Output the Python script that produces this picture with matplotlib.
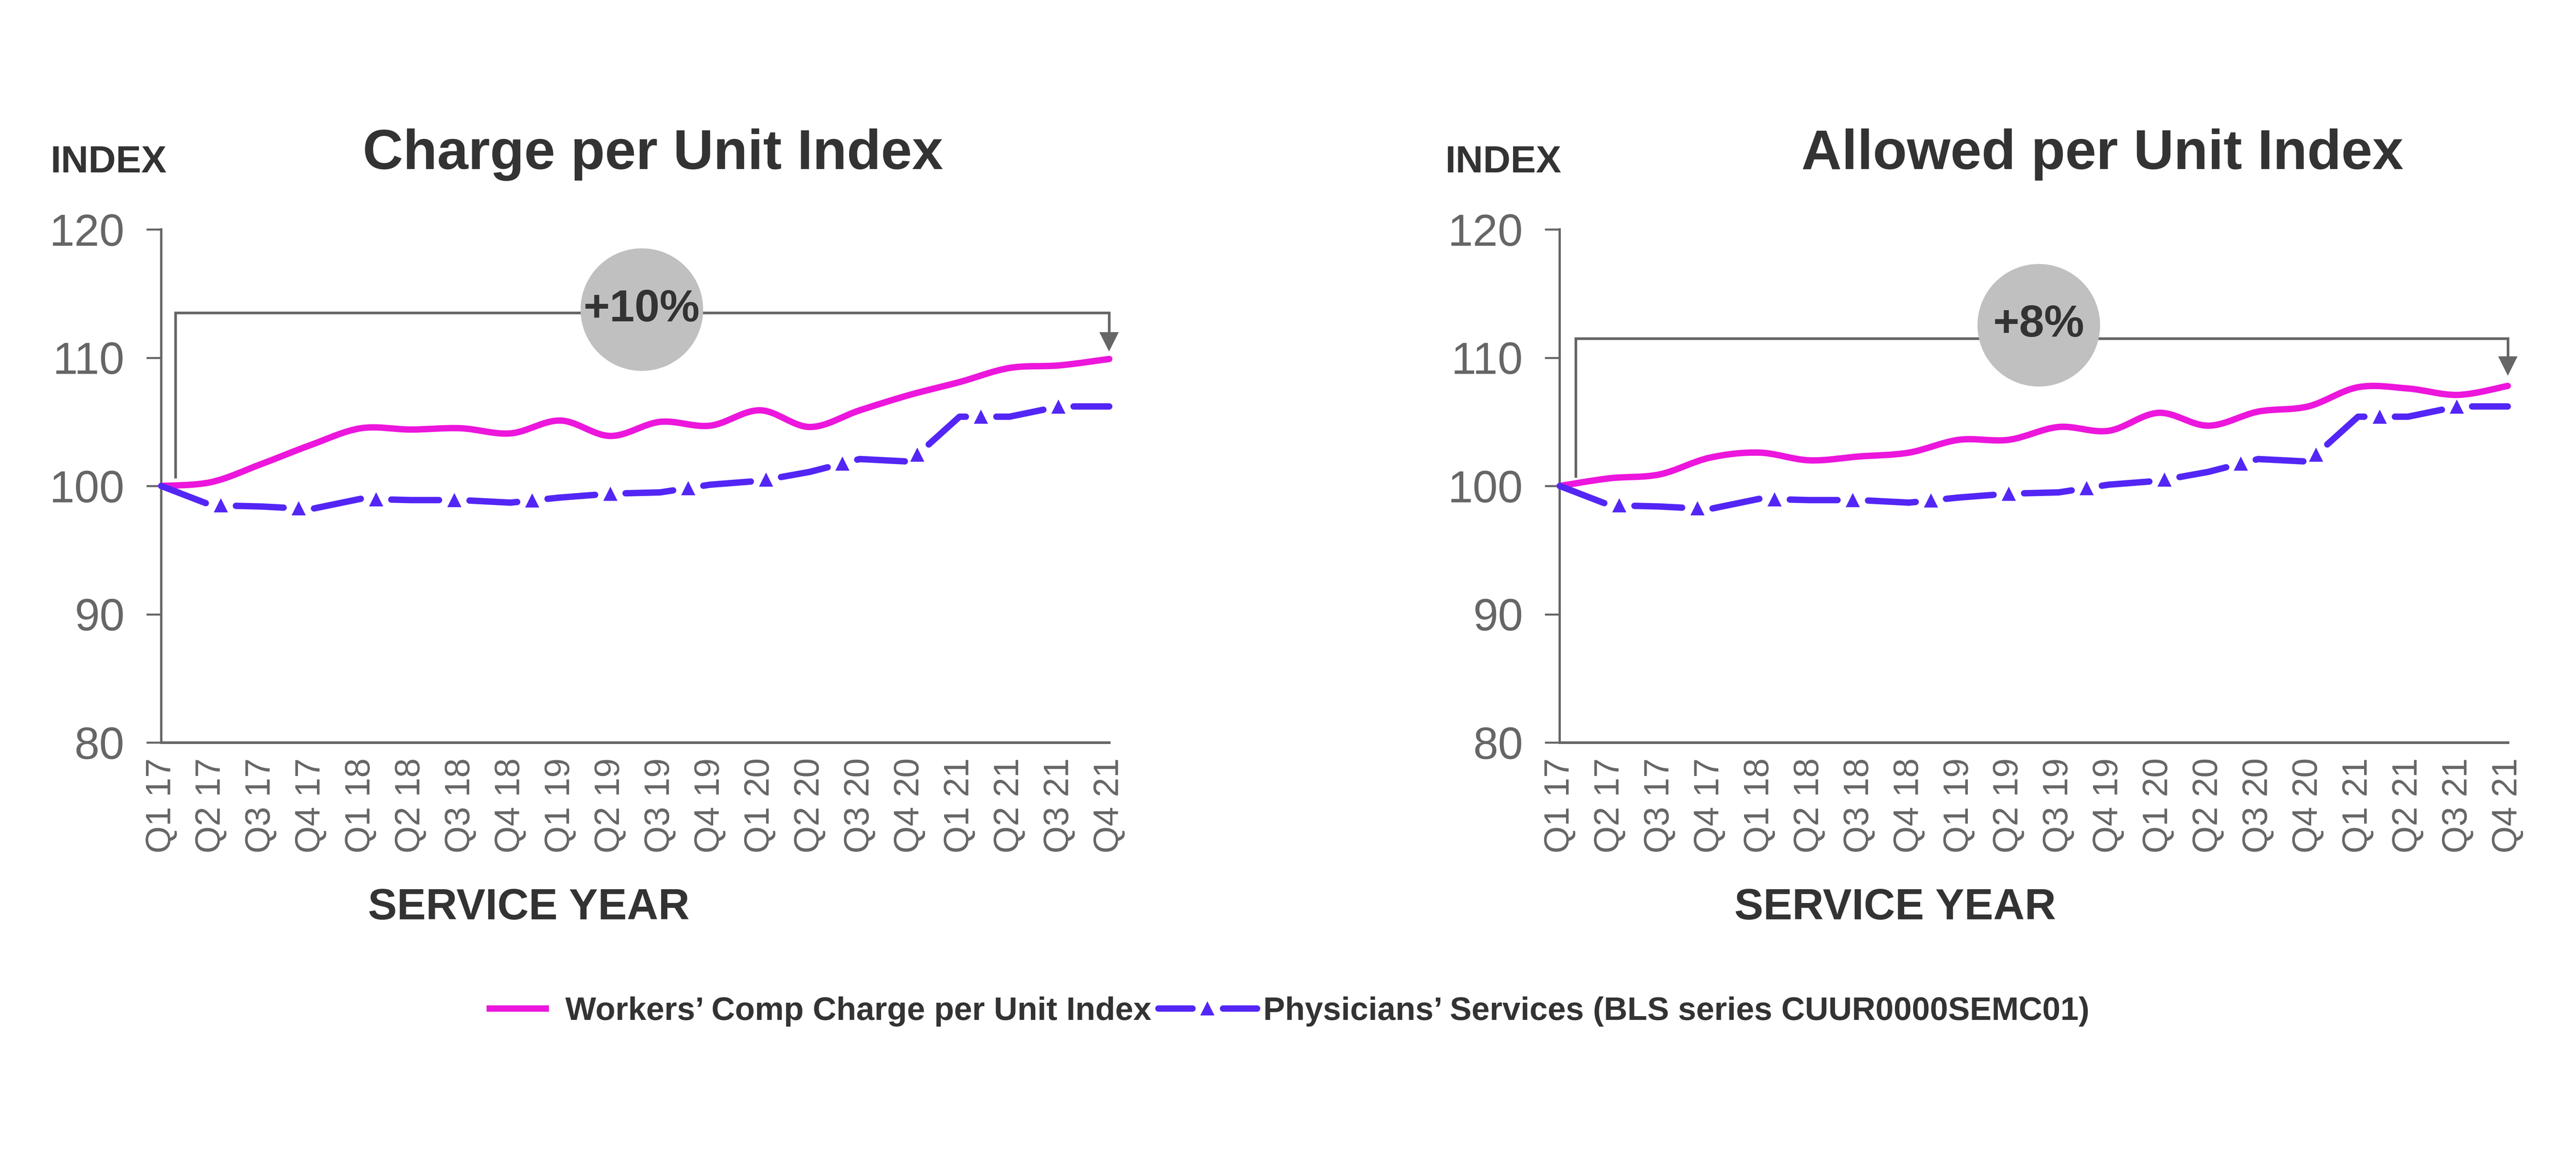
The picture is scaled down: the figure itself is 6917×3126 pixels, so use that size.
import numpy as np
import matplotlib
matplotlib.use("Agg")
import matplotlib.pyplot as plt
from matplotlib.path import Path
from matplotlib.patches import PathPatch
from matplotlib.lines import Line2D

plt.rcParams['font.family'] = ['Liberation Sans', 'DejaVu Sans']

### DATA ##########

quarters = ['Q1 17', 'Q2 17', 'Q3 17', 'Q4 17',
            'Q1 18', 'Q2 18', 'Q3 18', 'Q4 18',
            'Q1 19', 'Q2 19', 'Q3 19', 'Q4 19',
            'Q1 20', 'Q2 20', 'Q3 20', 'Q4 20',
            'Q1 21', 'Q2 21', 'Q3 21', 'Q4 21']

charge_index = [100.0, 100.3, 101.7, 103.2, 104.5, 104.4, 104.5, 104.1, 105.1, 103.9,
                105.0, 104.7, 105.9, 104.6, 105.9, 107.1, 108.1, 109.2, 109.4, 109.9]

allowed_index = [100.0, 100.6, 100.9, 102.2, 102.6, 102.0, 102.3, 102.6, 103.6, 103.6,
                 104.6, 104.3, 105.7, 104.7, 105.8, 106.2, 107.7, 107.6, 107.1, 107.8]

bls_index = [100.0, 98.5, 98.4, 98.2, 99.0, 98.9, 98.9, 98.7, 99.1, 99.4,
             99.5, 100.1, 100.4, 101.1, 102.1, 101.9, 105.4, 105.4, 106.2, 106.2]

titles = ['Charge per Unit Index', 'Allowed per Unit Index']
changes = ['+10%', '+8%']
legend_labels = ['Workers\u2019 Comp Charge per Unit Index',
                 'Physicians\u2019 Services (BLS series CUUR0000SEMC01)']

# colours
PINK = '#EC16DC'
BLUE = '#5326F5'
DARK = '#333333'
GREY = '#666666'
BUBBLE = '#C0C0C0'

LW = 4.1
ON, OFF = 7.5, 4.8   # dash pattern in linewidths

DPI = 300
fig = plt.figure(figsize=(6917 / DPI, 3126 / DPI), dpi=DPI)

# axes placement (figure fractions)
ax_left = [0.0626, 0.6055]
ax_w = 0.3680
ax_b, ax_h = 0.3621, 0.4408

# text positions
title_x = [0.2534, 0.8162]
index_x = [0.0195, 0.5610]
service_x = [0.2053, 0.7357]

# bracket layout: (left x offset, bottom y, bar y, arrow tip y), bubble (x, y)
brackets = [(0.28, 100.7, 113.5, 110.5), (0.32, 100.75, 111.5, 108.6)]
bubbles = [(9.63, 113.75), (9.6, 112.55)]


def smooth_path(x, y):
    # Excel-like smoothed line: Catmull-Rom through the points as cubic Beziers
    p = np.column_stack([x, y]).astype(float)
    n = len(p)
    verts = [p[0]]
    codes = [Path.MOVETO]
    for i in range(n - 1):
        p0 = p[i - 1] if i > 0 else p[i]
        p3 = p[i + 2] if i + 2 < n else p[i + 1]
        c1 = p[i] + (p[i + 1] - p0) / 6.0
        c2 = p[i + 1] - (p3 - p[i]) / 6.0
        verts += [c1, c2, p[i + 1]]
        codes += [Path.CURVE4] * 3
    return Path(verts, codes)


def gap_markers(ax, x, y):
    # place triangles in the gaps of the dash pattern, as in the original
    pix = ax.transData.transform(np.column_stack([x, y]))
    seg = np.hypot(*np.diff(pix, axis=0).T)
    cum = np.concatenate([[0], np.cumsum(seg)])
    scale = LW * DPI / 72.0
    on, off = ON * scale, OFF * scale
    s = np.arange(on + off / 2.0, cum[-1] - off / 4.0, on + off)
    px = np.interp(s, cum, pix[:, 0])
    py = np.interp(s, cum, pix[:, 1])
    return ax.transData.inverted().transform(np.column_stack([px, py]))


xs = np.arange(len(quarters))
series = [charge_index, allowed_index]

for k in range(2):
    ax = fig.add_axes([ax_left[k], ax_b, ax_w, ax_h])
    ax.set_xlim(0, len(quarters) - 1)
    ax.set_ylim(80, 120)

    # pink smoothed line
    patch = PathPatch(smooth_path(xs, series[k]), fill=False, edgecolor=PINK,
                      lw=LW, capstyle='round', joinstyle='round',
                      zorder=3, clip_on=False)
    ax.add_patch(patch)

    # blue dashed line with triangles
    ax.plot(xs, bls_index, color=BLUE, lw=LW, ls=(0, (ON, OFF)),
            dash_capstyle='round', solid_joinstyle='round', zorder=4, clip_on=False)
    tri = gap_markers(ax, xs, bls_index)
    ax.plot(tri[:, 0], tri[:, 1], ls='none', marker='^', ms=9, color=BLUE,
            mec='none', zorder=4, clip_on=False)

    # bracket with arrow
    bx, by0, by1, tip = brackets[k]
    xe = xs[-1]
    ax.plot([bx, bx, xe, xe], [by0, by1, by1, tip + 0.6], color=GREY, lw=1.7,
            solid_joinstyle='miter', zorder=2, clip_on=False)
    ax.plot([xe], [tip + 0.75], marker='v', ms=12.5, color=GREY, mec='none',
            zorder=2, clip_on=False)
    cx, cy = bubbles[k]
    ax.plot([cx], [cy], marker='o', ms=79, color=BUBBLE, mec='none', zorder=5,
            clip_on=False)
    ax.text(cx, cy, changes[k], ha='center', va='center', fontsize=29,
            fontweight='bold', color=DARK, zorder=6)

    # axes styling
    for side in ['top', 'right']:
        ax.spines[side].set_visible(False)
    ax.spines['left'].set_color(GREY)
    ax.spines['left'].set_linewidth(1.5)
    ax.spines['bottom'].set_color(GREY)
    ax.spines['bottom'].set_linewidth(1.7)
    ax.set_yticks([80, 90, 100, 110, 120])
    ax.tick_params(axis='y', direction='out', length=9.6, width=1.3, color=GREY,
                   labelsize=29, labelcolor=GREY, pad=14)
    ax.set_xticks(xs)
    ax.set_xticklabels(quarters, rotation=90)
    ax.tick_params(axis='x', length=0, labelsize=22.5, labelcolor=GREY, pad=10)

    fig.text(title_x[k], 0.8672, titles[k], ha='center', va='center',
             fontsize=36, fontweight='bold', color=DARK)
    fig.text(index_x[k], 0.8605, 'INDEX', ha='left', va='center',
             fontsize=24.5, fontweight='bold', color=DARK)
    fig.text(service_x[k], 0.2198, 'SERVICE YEAR', ha='center', va='center',
             fontsize=28, fontweight='bold', color=DARK)

# LEGEND #################
HL = 3.03
fs = 21
hl_pt = HL * fs
blue_on = (hl_pt - OFF * LW) / 2.0 / LW
pink_lead = 4.1          # blank part before the short pink handle (in linewidths)
pink_on = 9.8
handles = [Line2D([], [], color=PINK, lw=LW, dash_capstyle='butt',
                  ls=(0, (0.001, pink_lead, pink_on, 20))),
           Line2D([], [], color=BLUE, lw=LW, ls=(0, (blue_on, OFF, blue_on, OFF)),
                  dash_capstyle='round', marker='^', ms=9, mec='none')]
fig.legend(handles, legend_labels, loc='center', bbox_to_anchor=(0.4949, 0.131),
           ncol=2, frameon=False, handlelength=HL, handletextpad=0.2,
           columnspacing=0.2, numpoints=1,
           prop={'size': fs, 'weight': 'bold'}, labelcolor=DARK)

fig.savefig('out.png', dpi=DPI, facecolor='white')
